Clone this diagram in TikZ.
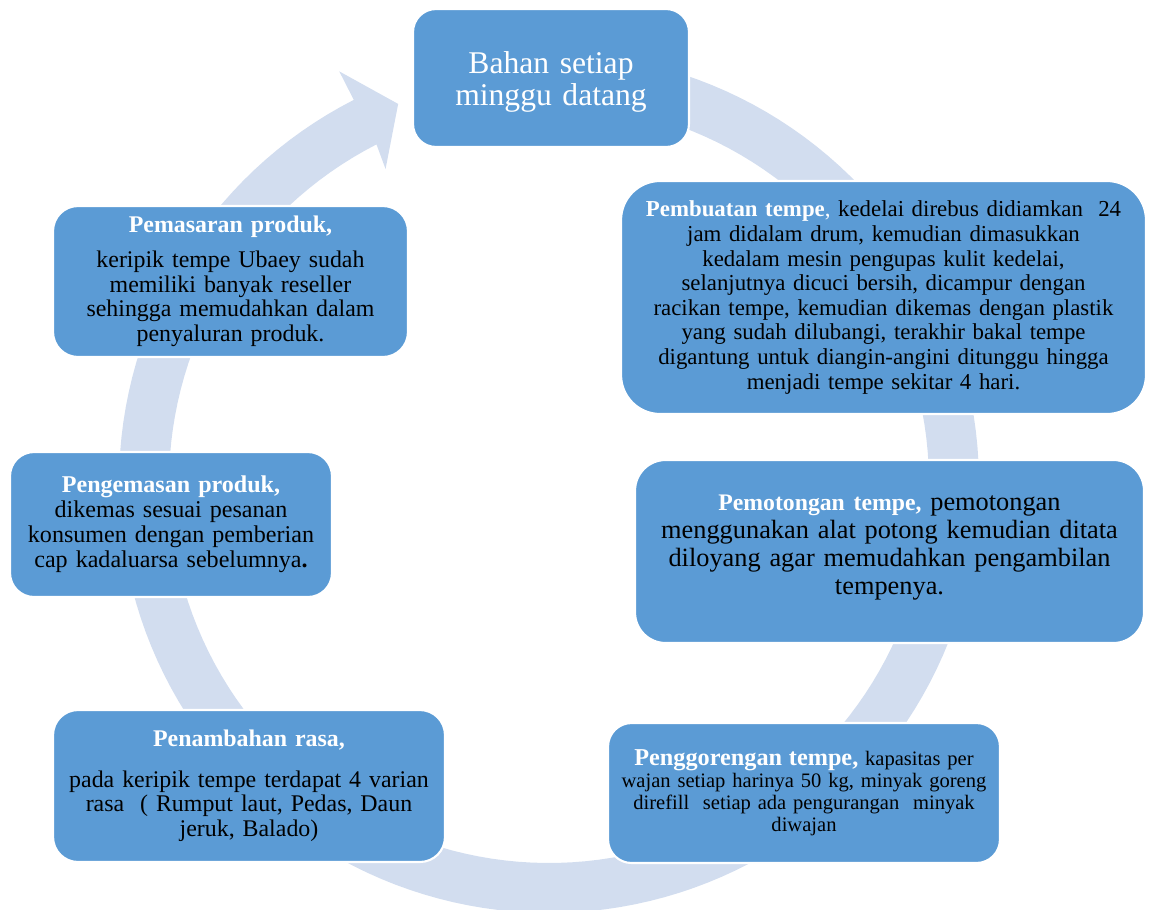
\documentclass[tikz,border=0pt]{standalone}
\usepackage{fontspec}
\setmainfont{Liberation Serif}
\definecolor{boxblue}{RGB}{91,155,213}
\definecolor{ringc}{RGB}{210,221,239}
\tikzset{
  stepbox/.style={rectangle, draw=white, line width=1.2pt, fill=boxblue,
    inner sep=0pt, align=center, text=black},
  ringshape/.style={fill=ringc, draw=none}
}
\newcommand{\ttl}[1]{\textcolor{white}{\bfseries #1}}
\begin{document}
\begin{tikzpicture}[x=0.02cm, y=-0.02cm]
\useasboundingbox (0,0) rectangle (1151,909);
% circular arrow
\begin{scope}[shift={(549,483)}]
\fill[ringshape] plot[domain=-80:243, samples=160] (\x:430)
  -- (243:462) -- (248.3:408) -- (242.5:354)
  -- plot[domain=243:-80, samples=160] (\x:380) -- cycle;
\end{scope}
% boxes
\node[stepbox, minimum width=5.52cm, minimum height=2.76cm, text width=5.2cm,
  rounded corners=0.46cm, text=white, font=\fontsize{18}{18}\selectfont] (bahan) at (551,78)
  {\rule{0pt}{0.6cm}Bahan setiap\\minggu datang};
\node[stepbox, minimum width=10.5cm, minimum height=4.66cm, text width=10.1cm,
  rounded corners=0.78cm, font=\fontsize{13}{14}\selectfont] (buat) at (883.5,297.5)
  {\ttl{Pembuatan tempe}\textcolor{white}{,} kedelai direbus didiamkan\ \ 24\\
   jam didalam drum, kemudian dimasukkan\\
   kedalam mesin pengupas kulit kedelai,\\
   selanjutnya dicuci bersih, dicampur dengan\\
   racikan tempe, kemudian dikemas dengan plastik\\
   yang sudah dilubangi, terakhir bakal tempe\\
   digantung untuk diangin-angini ditunggu hingga\\
   menjadi tempe sekitar 4 hari.};
\node[stepbox, minimum width=10.18cm, minimum height=3.66cm, text width=9.8cm,
  rounded corners=0.61cm, font=\fontsize{15}{16}\selectfont] (potong) at (889.5,551.5)
  {{\fontsize{13.5}{16}\selectfont\ttl{Pemotongan tempe,}} pemotongan\\
   menggunakan alat potong kemudian ditata\\
   diloyang agar memudahkan pengambilan\\
   tempenya.\rule[-0.27cm]{0pt}{0.27cm}};
\node[stepbox, minimum width=7.84cm, minimum height=2.8cm, text width=7.5cm,
  rounded corners=0.47cm, font=\fontsize{11.7}{12.6}\selectfont] (goreng) at (804,793)
  {{\fontsize{13.8}{12.6}\selectfont\ttl{Penggorengan tempe,}} kapasitas per\\
   wajan setiap harinya 50 kg, minyak goreng\\
   direfill\ \ setiap ada pengurangan\ \ minyak\\
   diwajan};
\node[stepbox, minimum width=7.84cm, minimum height=3.04cm, text width=7.5cm,
  rounded corners=0.5cm, font=\fontsize{13.6}{14}\selectfont] (rasa) at (249,786)
  {\ttl{Penambahan rasa,}\\[9pt]
   pada keripik tempe terdapat 4 varian\\
   rasa\ \ ( Rumput laut, Pedas, Daun\\
   jeruk, Balado)};
\node[stepbox, minimum width=6.44cm, minimum height=2.9cm, text width=6.1cm,
  rounded corners=0.48cm, font=\fontsize{13.7}{14.2}\selectfont] (kemas) at (171,524.5)
  {\ttl{Pengemasan produk,}\\
   dikemas sesuai pesanan\\
   konsumen dengan pemberian\\
   cap kadaluarsa sebelumnya{\bfseries .}};
\node[stepbox, minimum width=7.1cm, minimum height=3.02cm, text width=6.8cm,
  rounded corners=0.5cm, font=\fontsize{13.6}{14.2}\selectfont] (pasar) at (230.5,281.5)
  {\ttl{Pemasaran produk,}\\[5.5pt]
   keripik tempe Ubaey sudah\\
   memiliki banyak reseller\\
   sehingga memudahkan dalam\\
   penyaluran produk.};
\end{tikzpicture}
\end{document}
